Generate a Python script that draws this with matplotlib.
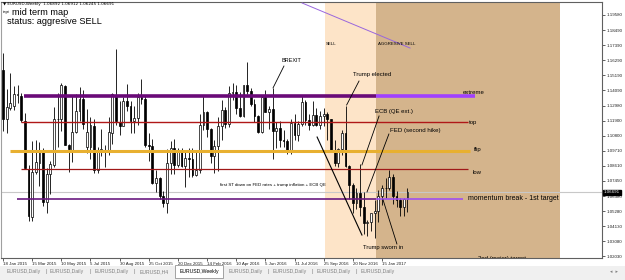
import matplotlib
matplotlib.use("Agg")
import matplotlib.pyplot as plt
from matplotlib.patches import Rectangle
from matplotlib.transforms import blended_transform_factory

# ---------------- data ----------------
# weekly EURUSD candles (week index 0 = 18 Jan 2015)
opens = [1.1560, 1.1200, 1.1280, 1.1300, 1.1380, 1.1370, 1.1190, 1.0840, 1.0490, 1.0820,
         1.0880, 1.0970, 1.0600, 1.0800, 1.0870, 1.1200, 1.1200, 1.1440, 1.1010, 1.0980,
         1.1110, 1.1260, 1.1350, 1.1000, 1.1000, 1.1150, 1.0830, 1.0980, 1.0980, 1.0970,
         1.1100, 1.1380, 1.1180, 1.1150, 1.1330, 1.1300, 1.1190, 1.1210, 1.1360, 1.1350,
         1.1015, 1.1005, 1.0740, 1.0770, 1.0640, 1.0590, 1.0880, 1.0990, 1.0865, 1.0960,
         1.0860, 1.0920, 1.0915, 1.0795, 1.0830, 1.1155, 1.1255, 1.1130, 1.0935, 1.1005,
         1.1150, 1.1270, 1.1165, 1.1390, 1.1400, 1.1285, 1.1225, 1.1450, 1.1405, 1.1310,
         1.1225, 1.1110, 1.1365, 1.1250, 1.1275, 1.1115, 1.1135, 1.1050, 1.1040, 1.0975,
         1.1175, 1.1085, 1.1165, 1.1325, 1.1195, 1.1155, 1.1230, 1.1155, 1.1225, 1.1240,
         1.1200, 1.0970, 1.0880, 1.0985, 1.1100, 1.0860, 1.0720, 1.0590, 1.0665, 1.0560,
         1.0450, 1.0455, 1.0520, 1.0530, 1.0640, 1.0700, 1.0700, 1.0780, 1.0640, 1.0615,
         1.0560, 1.0620]
highs = [1.1680, 1.1423, 1.1534, 1.1443, 1.1450, 1.1390, 1.1245, 1.0870, 1.1043, 1.1052,
         1.1035, 1.0990, 1.0848, 1.0900, 1.1290, 1.1390, 1.1467, 1.1448, 1.1020, 1.1380,
         1.1385, 1.1436, 1.1410, 1.1278, 1.1215, 1.1200, 1.1000, 1.1130, 1.1010, 1.1215,
         1.1390, 1.1714, 1.1330, 1.1360, 1.1460, 1.1330, 1.1300, 1.1390, 1.1495, 1.1380,
         1.1100, 1.1060, 1.0830, 1.0780, 1.0680, 1.0981, 1.1045, 1.1060, 1.0990, 1.0990,
         1.0970, 1.0990, 1.0990, 1.0960, 1.1240, 1.1376, 1.1260, 1.1140, 1.1050, 1.1220,
         1.1340, 1.1290, 1.1440, 1.1465, 1.1450, 1.1400, 1.1450, 1.1616, 1.1430, 1.1350,
         1.1230, 1.1370, 1.1415, 1.1300, 1.1427, 1.1180, 1.1185, 1.1120, 1.1060, 1.1200,
         1.1235, 1.1185, 1.1366, 1.1340, 1.1240, 1.1330, 1.1280, 1.1260, 1.1280, 1.1250,
         1.1200, 1.1050, 1.0990, 1.1125, 1.1300, 1.0865, 1.0740, 1.0700, 1.0875, 1.0670,
         1.0470, 1.0500, 1.0615, 1.0685, 1.0720, 1.0775, 1.0830, 1.0800, 1.0680, 1.0625,
         1.0630, 1.0700]
lows = [1.1115, 1.1098, 1.1270, 1.1270, 1.1316, 1.1177, 1.0840, 1.0462, 1.0462, 1.0800,
        1.0712, 1.0570, 1.0521, 1.0660, 1.0850, 1.1000, 1.1115, 1.1010, 1.0819, 1.0890,
        1.1100, 1.1190, 1.1130, 1.0955, 1.0915, 1.0810, 1.0808, 1.0930, 1.0850, 1.0940,
        1.1020, 1.1160, 1.1085, 1.1150, 1.1260, 1.1100, 1.1100, 1.1160, 1.1310, 1.1000,
        1.0900, 1.0730, 1.0670, 1.0620, 1.0560, 1.0522, 1.0800, 1.0800, 1.0850, 1.0850,
        1.0710, 1.0780, 1.0780, 1.0790, 1.0810, 1.1120, 1.1070, 1.0880, 1.0810, 1.0825,
        1.1050, 1.1140, 1.1145, 1.1340, 1.1235, 1.1220, 1.1220, 1.1385, 1.1300, 1.1180,
        1.1100, 1.1100, 1.1250, 1.1130, 1.0912, 1.0990, 1.1000, 1.1000, 1.0950, 1.0950,
        1.1050, 1.1040, 1.1150, 1.1160, 1.1120, 1.1150, 1.1150, 1.1130, 1.1150, 1.1050,
        1.0960, 1.0860, 1.0850, 1.0940, 1.0850, 1.0620, 1.0518, 1.0550, 1.0500, 1.0365,
        1.0352, 1.0390, 1.0340, 1.0455, 1.0580, 1.0625, 1.0685, 1.0585, 1.0565, 1.0495,
        1.0495, 1.0525]
closes = [1.1204, 1.1290, 1.1315, 1.1387, 1.1380, 1.1195, 1.0844, 1.0495, 1.0820, 1.0890,
          1.0970, 1.0600, 1.0806, 1.0873, 1.1200, 1.1200, 1.1450, 1.1015, 1.0985, 1.1110,
          1.1260, 1.1350, 1.1165, 1.1105, 1.1160, 1.0830, 1.0980, 1.0985, 1.0970, 1.1105,
          1.1385, 1.1185, 1.1150, 1.1335, 1.1300, 1.1190, 1.1210, 1.1360, 1.1350, 1.1015,
          1.1005, 1.0740, 1.0770, 1.0640, 1.0590, 1.0880, 1.0990, 1.0865, 1.0960, 1.0860,
          1.0920, 1.0915, 1.0795, 1.0830, 1.1155, 1.1255, 1.1130, 1.0935, 1.1005, 1.1150,
          1.1270, 1.1165, 1.1390, 1.1400, 1.1285, 1.1225, 1.1450, 1.1405, 1.1310, 1.1225,
          1.1110, 1.1365, 1.1250, 1.1275, 1.1115, 1.1135, 1.1050, 1.1040, 1.0975, 1.1175,
          1.1085, 1.1165, 1.1325, 1.1195, 1.1155, 1.1230, 1.1155, 1.1225, 1.1240, 1.1200,
          1.0970, 1.0880, 1.0985, 1.1100, 1.0860, 1.0720, 1.0590, 1.0665, 1.0560, 1.0450,
          1.0455, 1.0520, 1.0530, 1.0640, 1.0700, 1.0700, 1.0780, 1.0640, 1.0615, 1.0560,
          1.0620, 1.0669]

current_price = 1.06691
title_text = "\u25bc EURUSD,Weekly  1.06892 1.06912 1.06245 1.06691"

price_ticks = [1.1958, 1.1848, 1.1739, 1.1629, 1.1519, 1.1410, 1.1300, 1.1190, 1.1080,
               1.0971, 1.0861, 1.0752, 1.0642, 1.0532, 1.0423, 1.0313, 1.0203]
price_labels = ["1.19580", "1.18490", "1.17390", "1.16290", "1.15190", "1.14090", "1.12980",
                "1.11900", "1.10800", "1.09710", "1.08610", "1.07450", "1.06380", "1.05280",
                "1.04130", "1.03080", "1.02030"]

date_ticks = [0, 8, 16, 24, 32, 40, 48, 56, 64, 72, 80, 88, 96, 104]
date_labels = ["18 Jan 2015", "15 Mar 2015", "10 May 2015", "5 Jul 2015", "30 Aug 2015",
               "25 Oct 2015", "20 Dec 2015", "14 Feb 2016", "10 Apr 2016", "5 Jun 2016",
               "31 Jul 2016", "25 Sep 2016", "20 Nov 2016", "15 Jan 2017"]

# key levels: name, price, start week, end week
level_names = ["extreme", "top", "flip", "low", "momentum break - 1st target"]
level_prices = [1.1366, 1.1178, 1.0972, 1.0837, 1.0619]
level_start = [5.8, 4.9, 1.9, 4.9, 3.8]
level_end = [129.5, 127.5, 128.2, 127.5, 126.2]

# zones (week index)
sell_zone = [88.4, 102.4]
aggr_zone = [102.4, 152.9]

tab_names = ["EURUSD,Daily", "EURUSD,Daily", "EURUSD,Daily", "EURUSD,H4", "EURUSD,Weekly",
             "EURUSD,Daily", "EURUSD,Daily", "EURUSD,Daily", "EURUSD,Daily"]

# ---------------- layout ----------------
W, H = 625, 280
fig = plt.figure(figsize=(W / 100, H / 100), dpi=100)
fig.patch.set_facecolor("white")

PX0, PX1, PY0, PY1 = 1, 602, 2, 258
ax = fig.add_axes([PX0 / W, 1 - PY1 / H, (PX1 - PX0) / W, (PY1 - PY0) / H])
XPW = 3.644      # px per week
X0PX = 3.0       # px of week 0
YPP = 1376.0     # px per price unit
YREFPX, YREF = 15.0, 1.1958
ax.set_xlim((PX0 - X0PX) / XPW, (PX1 - X0PX) / XPW)
ax.set_ylim(YREF - (PY1 - YREFPX) / YPP, YREF + (YREFPX - PY0) / YPP)

FONT = "Liberation Sans"

# zones
ax.axvspan(sell_zone[0], sell_zone[1], color="#fde4c8", zorder=0, lw=0)
ax.axvspan(aggr_zone[0], aggr_zone[1], color="#d4b48c", zorder=0, lw=0)

# current price line
ax.axhline(current_price, color="#c8c8c8", lw=0.8, zorder=1)

# candles
idx = list(range(len(opens)))
ax.vlines(idx, lows, highs, color="black", lw=0.6, zorder=3)
bottoms = [min(o, c) for o, c in zip(opens, closes)]
heights = [max(abs(c - o), 0.0003) for o, c in zip(opens, closes)]
fcs = ["white" if c >= o else "black" for o, c in zip(opens, closes)]
ax.bar(idx, heights, bottom=bottoms, width=0.5, color=fcs, edgecolor="black",
       linewidth=0.5, zorder=4)

# levels
level_colors = ["#6a0a78", "#b01818", "#e8b030", "#a01818", "#6a1a80"]
level_widths = [2.6, 1.0, 2.2, 0.9, 1.2]
bright = {0: "#a040ff", 4: "#a050f0"}
for k, (p, s, e) in enumerate(zip(level_prices, level_start, level_end)):
    if k in bright:
        ax.hlines(p, s, aggr_zone[0], color=level_colors[k], lw=level_widths[k], zorder=5)
        ax.hlines(p, aggr_zone[0], e, color=bright[k], lw=level_widths[k], zorder=5)
    else:
        ax.hlines(p, s, e, color=level_colors[k], lw=level_widths[k], zorder=5)

label_pos = [(126.2, 1.1398), (127.9, 1.1180), (129.3, 1.0984), (129.0, 1.0817), (127.6, 1.0621)]
label_size = [4.3, 4.3, 4.3, 4.3, 5.0]
for name, (x, y), fs in zip(level_names, label_pos, label_size):
    ax.text(x, y, name, fontsize=fs, family=FONT, va="center", ha="left", zorder=6)

# trendlines / annotations
ax.plot([82.1, 111.7], [1.2045, 1.1718], color="#9966dd", lw=0.7, zorder=5)
ax.plot([86.2, 98.5], [1.1071, 1.0359], color="black", lw=0.8, zorder=6)

notes = [("BREXIT", (76.56, 1.1624), (77.1, 1.1587), (74.1, 1.1428), 4.0),
         ("Trump elected", (96.05, 1.1522), (97.7, 1.1478), (94.3, 1.1304), 4.3),
         ("ECB (QE ext.)", (102.1, 1.1260), (103.2, 1.1224), (98.5, 1.0868), 4.3),
         ("FED (second hike)", (106.2, 1.1122), (105.9, 1.1093), (99.9, 1.0672), 4.4),
         ("Trump sworn in", (98.8, 1.0265), (108.1, 1.0294), (104.3, 1.0614), 4.2)]
for txt, tp, a, b, fs in notes:
    ax.text(tp[0], tp[1], txt, fontsize=fs, family=FONT, va="center", ha="left", zorder=7)
    ax.plot([a[0], b[0]], [a[1], b[1]], color="black", lw=0.6, zorder=6)

ax.text(59.5, 1.0723, "first ST down on FED rates + trump inflation + ECB QE", fontsize=3.2,
        family=FONT, va="center", ha="left", zorder=7)
ax.text(88.6, 1.1747, "SELL", fontsize=3.2, family=FONT, va="center", ha="left", zorder=7)
ax.text(102.9, 1.1747, "AGGRESIVE SELL", fontsize=3.2, family=FONT, va="center", ha="left", zorder=7)
ax.text(130.4, 1.0190, "2nd (major) target", fontsize=4.3, family=FONT, va="center", ha="left",
        zorder=7, clip_on=True)

# axes styling
for s in ["left", "top", "right", "bottom"]:
    ax.spines[s].set_color("#606060")
    ax.spines[s].set_linewidth(0.8)
ax.spines["left"].set_color("#a0a0a0")
ax.yaxis.tick_right()
ax.set_yticks(price_ticks)
ax.set_yticklabels(price_labels)
ax.tick_params(axis="y", labelsize=3.2, length=2, pad=1.2, width=0.5, colors="#202020")
ax.set_xticks(date_ticks)
ax.set_xticklabels(date_labels)
ax.tick_params(axis="x", labelsize=3.2, length=2, pad=0.6, width=0.5, colors="#202020")
for lab in ax.get_xticklabels():
    lab.set_ha("left")
for lab in ax.get_yticklabels() + ax.get_xticklabels():
    lab.set_family(FONT)

# current price marker
tr = blended_transform_factory(ax.transAxes, ax.transData)
ax.text(1.003, current_price, "1.06691", transform=tr, fontsize=3.2, family=FONT, color="white",
        va="center", ha="left", zorder=10,
        bbox=dict(boxstyle="square,pad=0.15", fc="black", ec="black"))

# header texts
fig.text(3 / W, 1 - 4.2 / H, title_text, fontsize=3.0, family="DejaVu Sans",
         va="center", ha="left", zorder=10)
fig.text(2.5 / W, 1 - 11.5 / H, "target", fontsize=2.0, family=FONT, va="center", ha="left")
fig.text(12 / W, 1 - 12.3 / H, "mid term map", fontsize=6.6, family=FONT, va="center", ha="left")
fig.text(7 / W, 1 - 21.3 / H, "status: aggresive SELL", fontsize=6.6, family=FONT, va="center", ha="left")

# tab bar
fig.patches.append(Rectangle((0, 0), 1, 14.5 / H, transform=fig.transFigure,
                             facecolor="#f0f0f0", edgecolor="none", zorder=0))
tab_x = [5, 48, 93, 138, 178, 227, 271, 315, 359]
for k, (name, x) in enumerate(zip(tab_names, tab_x)):
    if name == "EURUSD,Weekly":
        fig.patches.append(Rectangle((175 / W, 2.5 / H), 48 / W, 12.5 / H, transform=fig.transFigure,
                                     facecolor="white", edgecolor="#808080", lw=0.5, zorder=1))
        col = "black"
    else:
        col = "#808080"
    fig.text((x + 2) / W, 1 - 271.5 / H, name, fontsize=3.7, family=FONT, color=col,
             va="center", ha="left", zorder=2)
    if name != "EURUSD,Weekly" and k + 1 < len(tab_names) and tab_names[k + 1] != "EURUSD,Weekly":
        fig.text((x + 41) / W, 1 - 271.5 / H, "|", fontsize=4, family=FONT, color="#808080",
                 va="center", ha="left")
fig.text(610 / W, 1 - 271.5 / H, "\u25c2  \u25b8", fontsize=3.5, family="DejaVu Sans",
         color="#808080", va="center", ha="left")

fig.savefig("out.png", dpi=100)
